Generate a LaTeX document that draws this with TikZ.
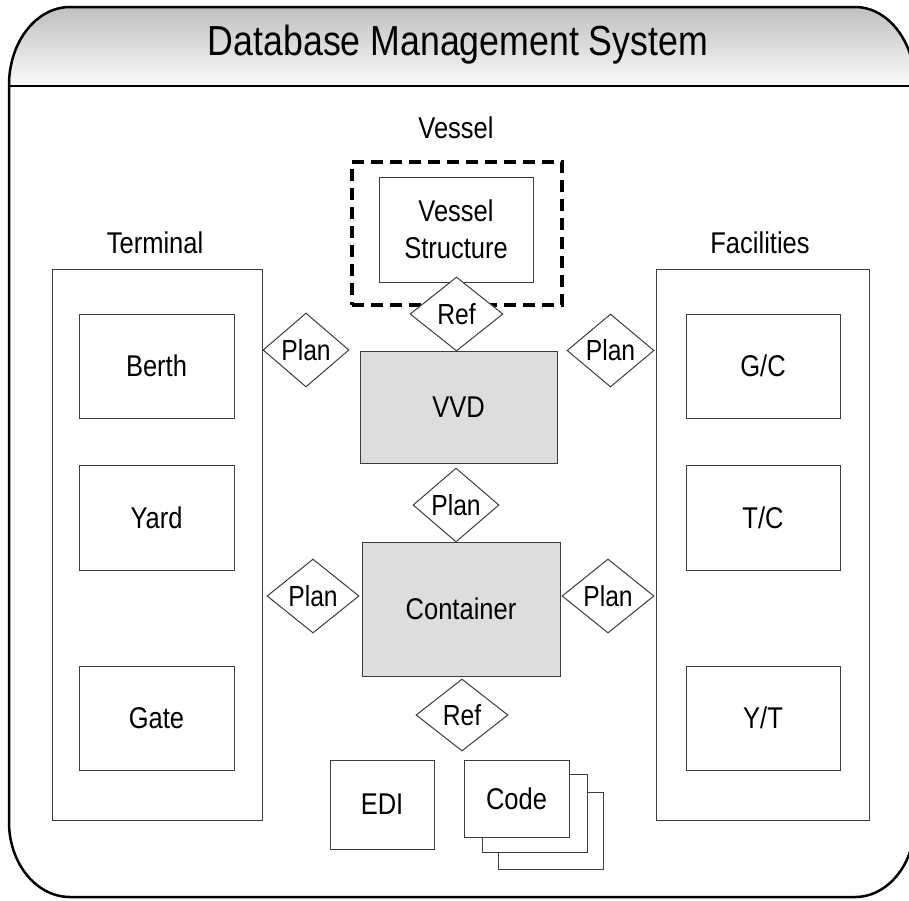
\documentclass[tikz,border=0pt]{standalone}
\usepackage{fontspec}
\setmainfont{Liberation Sans}[FakeStretch=0.85]
\usetikzlibrary{shapes.geometric}
\definecolor{hdrtop}{RGB}{192,192,192}
\definecolor{hdrbot}{RGB}{250,250,250}
\definecolor{boxfill}{RGB}{221,221,221}
\definecolor{edge}{RGB}{60,60,60}
\begin{document}
\begin{tikzpicture}[x=1pt,y=-1pt,
  box/.style={draw=edge, line width=1pt, fill=white, inner sep=0pt, font=\fontsize{30}{37}\selectfont},
  grp/.style={draw=edge, line width=1pt, inner sep=0pt},
  lbl/.style={inner sep=0pt, font=\fontsize{30}{36}\selectfont},
  rel/.style={diamond, draw=edge, line width=1pt, fill=white, inner sep=0pt, font=\fontsize{29}{33}\selectfont},
  core/.style={box, fill=boxfill},
]
\useasboundingbox (0,0) rectangle (909,900);
\begin{scope}
\clip (0,0) rectangle (909,900);
% header shading
\shade[top color=hdrtop, bottom color=hdrbot]
  (9,86) -- (9,85) arc[start angle=180, end angle=270, x radius=61, y radius=78]
  -- (855,7) arc[start angle=270, end angle=360, x radius=60, y radius=78]
  -- (915,86) -- cycle;
% outer outline
\draw[line width=2.5pt, line join=round]
  (70,7) -- (855,7) arc[start angle=270, end angle=360, x radius=60, y radius=78]
  -- (915,822) arc[start angle=0, end angle=90, x radius=60, y radius=75]
  -- (70,897) arc[start angle=90, end angle=180, x radius=61, y radius=75]
  -- (9,85) arc[start angle=180, end angle=270, x radius=61, y radius=78] -- cycle;
\draw[line width=2.5pt] (9,86) -- (915,86);
\node[inner sep=0pt, font=\fontsize{42}{50}\selectfont] (title) at (458,45) {Database Management System};

% groups
\node[grp, minimum width=210pt, minimum height=551pt] (terminal) at (157,544.5) {};
\node[lbl] (terminallbl) at (155,243) {Terminal};
\node[grp, minimum width=213pt, minimum height=551pt] (facilities) at (762.5,544.5) {};
\node[lbl] (facilitieslbl) at (760,243) {Facilities};
\node[draw=black, line width=3.5pt, dash pattern=on 12pt off 7pt, inner sep=0pt, minimum width=210pt, minimum height=143pt] (vessel) at (457,233.5) {};
\node[lbl] (vessellbl) at (456,128) {Vessel};

% terminal items
\node[box, minimum width=155pt, minimum height=104pt] (berth) at (156.5,366) {Berth};
\node[box, minimum width=155pt, minimum height=105pt] (yard) at (156.5,517.5) {Yard};
\node[box, minimum width=155pt, minimum height=104pt] (gate) at (156.5,718) {Gate};
% facilities items
\node[box, minimum width=154pt, minimum height=104pt] (gc) at (763,366) {G/C};
\node[box, minimum width=154pt, minimum height=105pt] (tc) at (763,517.5) {T/C};
\node[box, minimum width=154pt, minimum height=104pt] (yt) at (763,718) {Y/T};

% vessel
\node[box, minimum width=154pt, minimum height=105pt, align=center] (vstruct) at (456,229.5) {Vessel\\Structure};

% core
\node[core, minimum width=197pt, minimum height=112pt] (vvd) at (458.5,407) {VVD};
\node[core, minimum width=198pt, minimum height=134pt] (container) at (461,609) {Container};

% relations
\node[rel, minimum width=93pt, minimum height=74pt] (ref1) at (456.5,314) {Ref};
\node[rel, minimum width=86pt, minimum height=74pt] (plan1) at (306,350) {Plan};
\node[rel, minimum width=87pt, minimum height=73pt] (plan2) at (610.5,350.5) {Plan};
\node[rel, minimum width=86pt, minimum height=74pt] (plan3) at (456,505) {Plan};
\node[rel, minimum width=92pt, minimum height=74pt] (plan4) at (313,596) {Plan};
\node[rel, minimum width=92pt, minimum height=74pt] (plan5) at (608,596) {Plan};
\node[rel, minimum width=92pt, minimum height=72pt] (ref2) at (462,715) {Ref};

% bottom
\node[box, minimum width=104pt, minimum height=89pt] (edi) at (382,804.5) {EDI};
\node[box, minimum width=105pt, minimum height=77pt] (code3) at (550.5,830.5) {};
\node[box, minimum width=105pt, minimum height=78pt] (code2) at (534.5,813) {};
\node[box, minimum width=105pt, minimum height=77pt] (code) at (516.5,798.5) {Code};
\end{scope}
\end{tikzpicture}
\end{document}
